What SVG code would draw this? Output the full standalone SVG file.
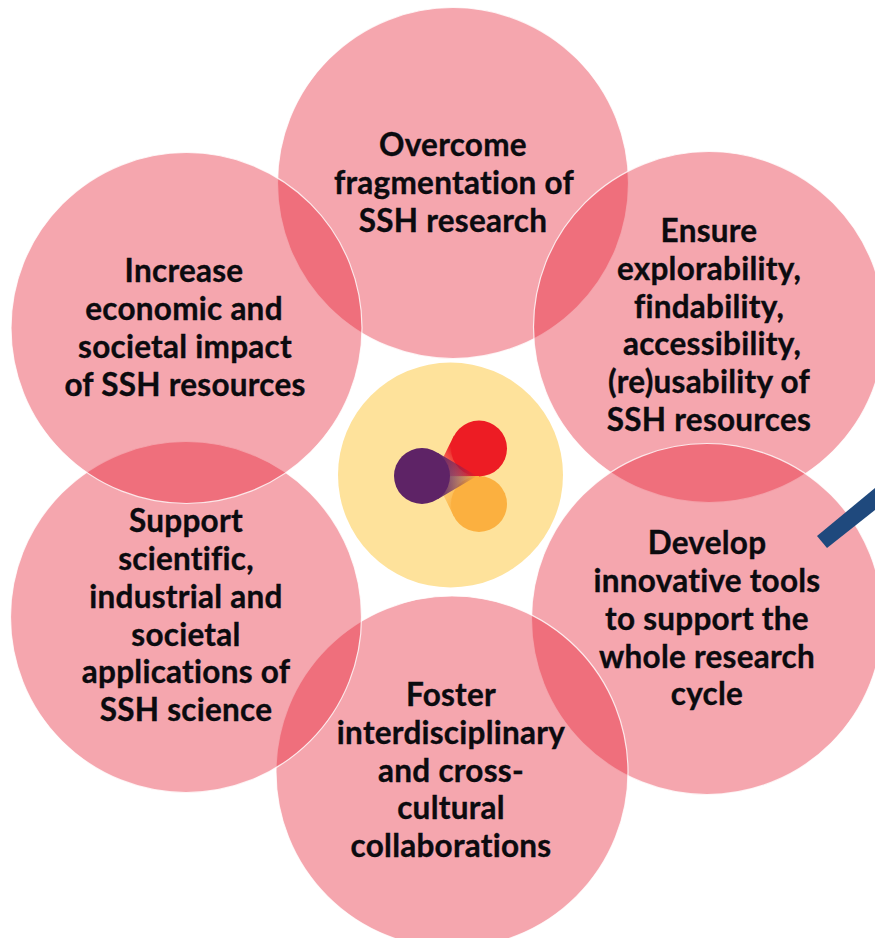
<svg xmlns="http://www.w3.org/2000/svg" width="875" height="938" viewBox="0 0 875 938">
<style>
.c{fill:#E5152A;fill-opacity:.38;stroke:#fff;stroke-width:1.2;stroke-opacity:.8}
text{font-family:Lato,Carlito,"Liberation Sans",sans-serif;font-weight:700;font-size:31.500px;letter-spacing:.25px;fill:#0b0b0f;text-anchor:middle;stroke:#0b0b0f;stroke-width:.35px}
</style>
<defs>
<linearGradient id="gr" gradientUnits="userSpaceOnUse" x1="458" y1="456" x2="436" y2="472"><stop offset="0" stop-color="#ED1C24"/><stop offset="1" stop-color="#ED1C24" stop-opacity=".15"/></linearGradient>
<linearGradient id="go" gradientUnits="userSpaceOnUse" x1="462" y1="498" x2="436" y2="480"><stop offset="0" stop-color="#FBB040"/><stop offset="1" stop-color="#FBB040" stop-opacity="0"/></linearGradient>
<linearGradient id="gp" gradientUnits="userSpaceOnUse" x1="438" y1="476" x2="477" y2="476"><stop offset="0" stop-color="#5E2366"/><stop offset="1" stop-color="#5E2366" stop-opacity="0"/></linearGradient>
</defs>
<g id="node-center"><circle cx="450.500" cy="475" r="112.500" fill="#FEE29B"/>
<circle cx="479" cy="504" r="28" fill="#FBB040"/>
<circle cx="479" cy="448.500" r="28" fill="#ED1C24"/>
<path d="M434 476L454 435.600L479 449L479 476.500Z" fill="url(#gr)"/>
<path d="M434 476L479 476L479 504L453.900 516.400Z" fill="url(#go)"/>
<circle cx="422" cy="476" r="28" fill="#5E2366"/>
<path d="M477 476L438 453L438 499Z" fill="url(#gp)"/></g>
<g id="node-top"><circle class="c" cx="453" cy="183" r="175.500"/><text x="453" y="155.500">Overcome</text><text x="454" y="193.500">fragmentation of</text><text x="453" y="231.500">SSH research</text></g>
<g id="node-upper-right"><circle class="c" cx="709" cy="327" r="175.500"/><text x="709" y="241.500">Ensure</text><text x="709" y="279.500">explorability,</text><text x="709" y="317.500">findability,</text><text x="712" y="354.500">accessibility,</text><text x="709" y="392.500">(re)usability of</text><text x="709" y="430.500">SSH resources</text></g>
<g id="node-lower-right"><circle class="c" cx="707" cy="619" r="175.500"/><text x="707" y="553.500">Develop</text><text x="707" y="591.500">innovative tools</text><text x="707" y="629.500">to support the</text><text x="707" y="667.500">whole research</text><text x="707" y="704.500">cycle</text></g>
<g id="node-bottom"><circle class="c" cx="452" cy="772" r="176"/><text x="451" y="705.500">Foster</text><text x="451" y="743.500">interdisciplinary</text><text x="451" y="781.500">and cross-</text><text x="451" y="818.500">cultural</text><text x="451" y="856.500">collaborations</text></g>
<g id="node-lower-left"><circle class="c" cx="186" cy="617" r="175.500"/><text x="186" y="531.500">Support</text><text x="186" y="569.500">scientific,</text><text x="186" y="607.500">industrial and</text><text x="186" y="645.500">societal</text><text x="186" y="682.500">applications of</text><text x="186" y="720.500">SSH science</text></g>
<g id="node-upper-left"><circle class="c" cx="186.500" cy="328" r="175.500"/><text x="184" y="281.500">Increase</text><text x="184" y="319.500">economic and</text><text x="185" y="357.500">societal impact</text><text x="185" y="395.500">of SSH resources</text></g>
<g id="connectors"><polygon points="817,536 827,548 875,510 875,488" fill="#1F497D"/></g>
</svg>
